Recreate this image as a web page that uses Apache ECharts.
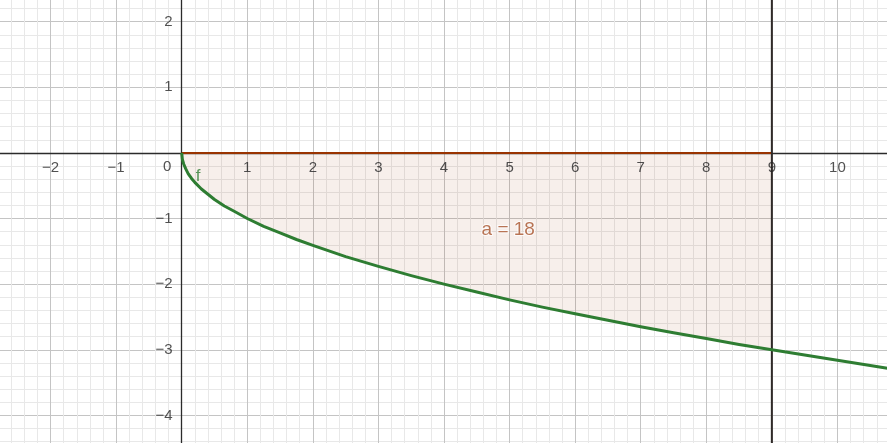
<!DOCTYPE html>
<html>
<head>
<meta charset="utf-8">
<script src="https://cdn.jsdelivr.net/npm/echarts@6/dist/echarts.min.js"></script>
<style>
  html, body { margin: 0; padding: 0; background: #fff; overflow: hidden; width: 887px; height: 443px; }
  /* the plot is larger than the window so integer axis bounds fall outside it */
  #chart { position: absolute; left: -15.1px; top: -44.5px; width: 918.4px; height: 524.8px; }
</style>
</head>
<body>
<div id="chart"></div>
<script>
// curve f, points
const curveX = [0, 0.01, 0.03, 0.06, 0.1, 0.15, 0.2, 0.3, 0.4, 0.5, 0.65, 0.8, 1, 1.25, 1.5, 1.75, 2, 2.5, 3, 3.5, 4, 4.5, 5, 5.5, 6, 6.5, 7, 7.5, 8, 8.5, 9, 9.5, 10, 10.5, 11]
const curveY = [0, -0.1, -0.17, -0.24, -0.32, -0.39, -0.45, -0.55, -0.63, -0.71, -0.81, -0.89, -1, -1.12, -1.22, -1.32, -1.41, -1.58, -1.73, -1.87, -2, -2.12, -2.24, -2.35, -2.45, -2.55, -2.65, -2.74, -2.83, -2.92, -3, -3.08, -3.16, -3.24, -3.32]

// shaded region bounds and its value
const areaFrom = 0
const areaTo = 9
const areaLabel = 'a = 18'

// axis ranges and tick labels
const xRange = [-3, 11]
const yRange = [-5, 3]
const xTicks = [-2, -1, 1, 2, 3, 4, 5, 6, 7, 8, 9, 10]
const yTicks = [2, 1, -1, -2, -3, -4]

const minus = v => (v < 0 ? '\u2212' + Math.abs(v) : String(v))

const curve = curveX.map((x, i) => [x, curveY[i]])
const areaPts = curve.filter(p => p[0] >= areaFrom && p[0] <= areaTo)

const chart = echarts.init(document.getElementById('chart'))

const axisCommon = {
  type: 'value',
  interval: 1,
  axisLine: { onZero: true, lineStyle: { color: '#2b2b2b', width: 1.3 } },
  axisTick: { show: false },
  axisLabel: { show: false },
  minorTick: { show: false, splitNumber: 5 },
  splitLine: { show: true, lineStyle: { color: '#c4c4c4', width: 1 } },
  minorSplitLine: { show: true, lineStyle: { color: '#e8e8e8', width: 1 } }
}

const labelFont = { fontFamily: 'Liberation Sans', fontSize: 15, color: '#262626' }

chart.setOption({
  animation: false,
  grid: { left: 0, right: 0, top: 0, bottom: 0, containLabel: false, outerBoundsMode: 'none' },
  xAxis: Object.assign({}, axisCommon, { min: xRange[0], max: xRange[1] }),
  yAxis: Object.assign({}, axisCommon, { min: yRange[0], max: yRange[1] }),
  series: [
    {
      // shaded area between f and the x axis
      type: 'line',
      data: areaPts,
      symbol: 'none',
      lineStyle: { width: 0, color: 'transparent' },
      areaStyle: { color: 'rgba(153, 51, 0, 0.11)', origin: 0 },
      z: 3
    },
    {
      // upper edge of the region
      type: 'line',
      data: [[areaFrom, 0], [areaTo, 0]],
      symbol: 'none',
      lineStyle: { color: '#993300', width: 2 },
      z: 4
    },
    {
      // vertical line x = 9
      type: 'line',
      data: [[areaTo, yRange[0]], [areaTo, yRange[1]]],
      symbol: 'none',
      lineStyle: { color: '#2f2a28', width: 2 },
      z: 4
    },
    {
      // f
      type: 'line',
      data: curve,
      symbol: 'none',
      lineStyle: { color: '#2e7d32', width: 3, join: 'round' },
      z: 5
    },
    {
      // x tick labels
      type: 'scatter',
      symbolSize: 0,
      silent: true,
      z: 6,
      data: xTicks.map(v => [v, 0]),
      label: Object.assign({ show: true, position: 'inside', offset: [0, 15], formatter: p => minus(p.value[0]) }, labelFont)
    },
    {
      // y tick labels
      type: 'scatter',
      symbolSize: 0,
      silent: true,
      z: 6,
      data: yTicks.map(v => [0, v]),
      label: Object.assign({ show: true, position: 'left', distance: 9, formatter: p => minus(p.value[1]) }, labelFont)
    },
    {
      // text labels
      type: 'scatter',
      symbolSize: 0,
      silent: true,
      z: 6,
      data: [
        { value: [-0.22, -0.22], label: { formatter: '0', color: '#262626', fontSize: 15 } },
        { value: [0.25, -0.35], label: { formatter: 'f', color: '#2e7d32', fontSize: 17 } },
        { value: [4.98, -1.17], label: { formatter: areaLabel, color: '#a8532a', fontSize: 19, textBorderColor: '#fff', textBorderWidth: 2 } }
      ],
      label: { show: true, position: 'inside', fontFamily: 'Liberation Sans' }
    }
  ]
})
</script>
</body>
</html>
